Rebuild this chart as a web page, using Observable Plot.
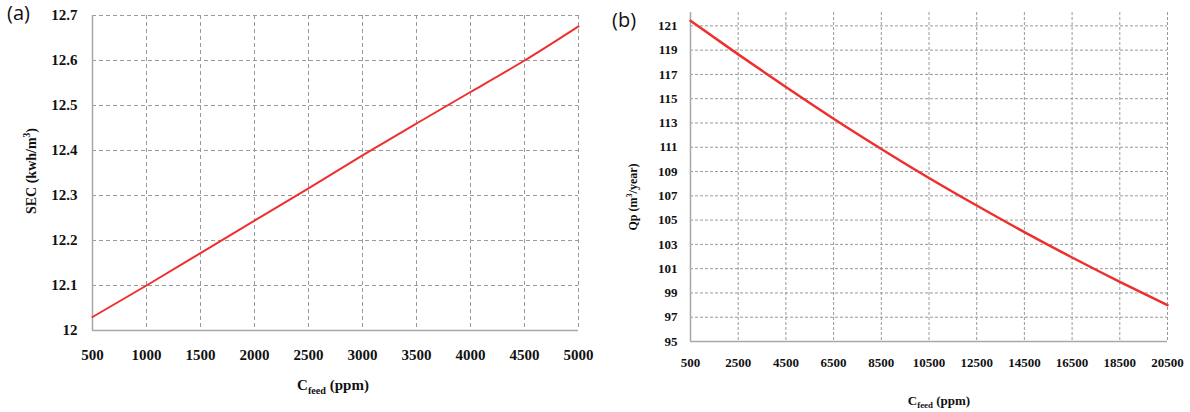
<!DOCTYPE html>
<html>
<head>
<meta charset="utf-8">
<script src="https://cdn.jsdelivr.net/npm/d3@7"></script>
<script src="https://cdn.jsdelivr.net/npm/@observablehq/plot@0.6"></script>
<style>
  html, body { margin: 0; padding: 0; background: #fff; }
  #wrap { position: relative; width: 1190px; height: 412px; overflow: hidden; background: #fff; }
  .panel { position: absolute; top: 0; }
  .tag { position: absolute; font-family: "Open Sans", "DejaVu Sans", sans-serif; font-size: 20px; color: #111; }
</style>
</head>
<body>
<div id="wrap">
  <div class="panel" id="pa" style="left:0px"></div>
  <div class="panel" id="pb" style="left:600px"></div>
  <div class="tag" style="left:7px; top:-1px">(a)</div>
  <div class="tag" style="left:612px; top:6px">(b)</div>
</div>
<script>
// ---- Panel (a): SEC vs feed concentration
const feedA = [500, 1000, 1500, 2000, 2500, 3000, 3500, 4000, 4500, 5000];
const secA = [12.03, 12.10, 12.172, 12.244, 12.316, 12.389, 12.46, 12.53, 12.60, 12.676];
const xTicksA = [500, 1000, 1500, 2000, 2500, 3000, 3500, 4000, 4500, 5000];
const yTicksA = [12, 12.1, 12.2, 12.3, 12.4, 12.5, 12.6, 12.7];

// ---- Panel (b): Qp vs feed concentration
const feedB = [500, 2500, 4500, 6500, 8500, 10500, 12500, 14500, 16500, 18500, 20500];
const qpB = [121.42, 118.65, 115.96, 113.35, 110.86, 108.47, 106.2, 104.01, 101.92, 99.92, 98.0];
const xTicksB = [500, 2500, 4500, 6500, 8500, 10500, 12500, 14500, 16500, 18500, 20500];
const yTicksB = [95, 97, 99, 101, 103, 105, 107, 109, 111, 113, 115, 117, 119, 121];

const tableA = feedA.map((f, i) => ({feed: f, sec: secA[i]}));
const tableB = feedB.map((f, i) => ({feed: f, qp: qpB[i]}));

const gridColor = "#9a9a9a";
const axisColor = "#a8a8a8";
const red = "#ee2f2f";

const plotA = Plot.plot({
  width: 600, height: 412,
  marginLeft: 92, marginRight: 22, marginTop: 15, marginBottom: 82,
  style: {fontFamily: "'Liberation Serif', 'DejaVu Serif', serif", fontWeight: "bold", fontSize: "15px", background: "#fff", color: "#111"},
  x: {domain: [500, 5000], ticks: xTicksA},
  y: {domain: [12, 12.7], ticks: yTicksA},
  marks: [
    Plot.gridY(yTicksA.filter(d => d > 12), {stroke: gridColor, strokeOpacity: 1, strokeDasharray: "4,3", strokeWidth: 1}),
    Plot.gridX(xTicksA.filter(d => d > 500), {stroke: gridColor, strokeOpacity: 1, strokeDasharray: "4,3", strokeWidth: 1}),
    Plot.ruleX([500], {stroke: axisColor, strokeWidth: 1.5}),
    Plot.ruleY([12], {stroke: axisColor, strokeWidth: 1.5}),
    Plot.axisX(xTicksA, {tickSize: 0, tickPadding: 19, label: null, tickFormat: d3.format("d")}),
    Plot.axisY(yTicksA, {tickSize: 0, tickPadding: 15, label: null, tickFormat: d => String(+d.toFixed(1))}),
    Plot.line(tableA, {x: "feed", y: "sec", stroke: red, strokeWidth: 2, curve: "natural"})
  ]
});
document.getElementById("pa").appendChild(plotA);

const plotB = Plot.plot({
  width: 590, height: 412,
  marginLeft: 90, marginRight: 23, marginTop: 12, marginBottom: 71,
  style: {fontFamily: "'Liberation Serif', 'DejaVu Serif', serif", fontWeight: "bold", fontSize: "13px", background: "#fff", color: "#111"},
  x: {domain: [500, 20500], ticks: xTicksB},
  y: {domain: [95, 122.1], ticks: yTicksB},
  marks: [
    Plot.gridY(yTicksB.filter(d => d > 95), {stroke: gridColor, strokeOpacity: 1, strokeDasharray: "3,2", strokeWidth: 1}),
    Plot.gridX(xTicksB.filter(d => d > 500), {stroke: gridColor, strokeOpacity: 1, strokeDasharray: "3,2", strokeWidth: 1}),
    Plot.ruleX([500], {stroke: axisColor, strokeWidth: 1.5}),
    Plot.ruleY([95], {stroke: axisColor, strokeWidth: 1.5}),
    Plot.axisX(xTicksB, {tickSize: 0, tickPadding: 16, label: null, tickFormat: d3.format("d")}),
    Plot.axisY(yTicksB, {tickSize: 0, tickPadding: 13, label: null, tickFormat: d3.format("d")}),
    Plot.line(tableB, {x: "feed", y: "qp", stroke: red, strokeWidth: 2.5, curve: "natural"})
  ]
});
document.getElementById("pb").appendChild(plotB);

// ---- Axis titles with sub/superscripts (real text)
function xTitle(svg, cx, y, size) {
  const t = d3.select(svg).append("text")
    .attr("x", cx).attr("y", y).attr("text-anchor", "middle")
    .attr("font-family", "'Liberation Serif', serif").attr("font-weight", "bold")
    .attr("font-size", size).attr("fill", "#111");
  t.append("tspan").text("C");
  t.append("tspan").attr("font-size", size * 0.68).attr("dy", size * 0.25).text("feed");
  t.append("tspan").attr("dy", -size * 0.25).text(" (ppm)");
}
function yTitle(svg, cx, cy, size, main, unitPre, sup, unitPost) {
  const t = d3.select(svg).append("text")
    .attr("transform", `translate(${cx},${cy}) rotate(-90)`)
    .attr("text-anchor", "middle").attr("dy", "0.35em")
    .attr("font-family", "'Liberation Serif', serif").attr("font-weight", "bold")
    .attr("font-size", size).attr("fill", "#111");
  t.append("tspan").text(main + " (" + unitPre);
  t.append("tspan").attr("font-size", size * 0.68).attr("dy", -size * 0.4).text(sup);
  t.append("tspan").attr("dy", size * 0.4).text(unitPost + ")");
}
xTitle(plotA, 333, 390, 15);
yTitle(plotA, 31, 171, 14, "SEC", "kwh/m", "3", "");
xTitle(plotB, 339, 405, 13);
yTitle(plotB, 33, 197, 12, "Qp", "m", "3", "/year");
</script>
</body>
</html>
